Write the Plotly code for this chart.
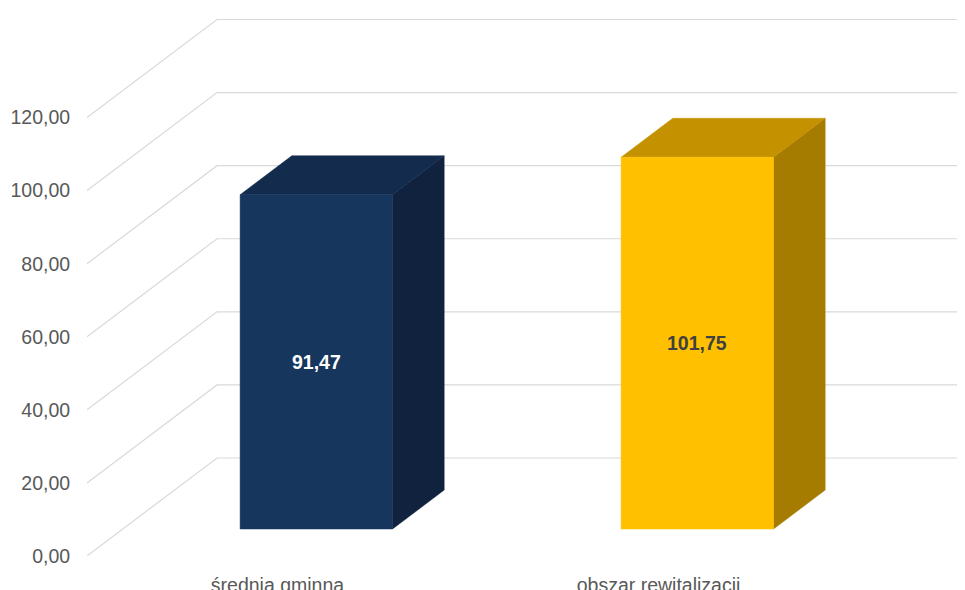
import plotly.graph_objects as go

categories = ["średnia gminna", "obszar rewitalizacji"]
values = [91.47, 101.75]
value_labels = ["91,47", "101,75"]
tick_values = [0, 20, 40, 60, 80, 100, 120]
tick_labels = ["0,00", "20,00", "40,00", "60,00", "80,00", "100,00", "120,00"]

front_colors = ["#17365D", "#FFC000"]
top_colors = ["#132B4C", "#C49200"]
side_colors = ["#10223D", "#A67C00"]
label_colors = ["#FFFFFF", "#404040"]

# page body has an 8px margin; figure sized to fill the 965x590 window
W, H = 957, 582
L, B, T = 79, 34, 0
PX_PER_UNIT = 3.654          # vertical pixels per value unit
PX_PER_CAT = 381.0           # horizontal pixels per category
DEPTH_DX = 130 / PX_PER_CAT  # oblique depth offset (x, category units)
DEPTH_DY = 98 / PX_PER_UNIT  # oblique depth offset (y, value units)
F1, F2 = 0.2755, 0.673       # bar front/back depth fractions
HALF_W = 0.2
BAR_SHIFT = 3 / PX_PER_CAT

xmax = (W - L) / PX_PER_CAT
ymax = (H - B - T) / PX_PER_UNIT

fig = go.Figure()

# oblique gridlines: side wall diagonal + back wall horizontal
for t in tick_values:
    fig.add_trace(go.Scatter(
        x=[0, DEPTH_DX, xmax], y=[t, t + DEPTH_DY, t + DEPTH_DY],
        mode="lines", line=dict(color="#D9D9D9", width=1.2),
        hoverinfo="skip", showlegend=False))

def poly(xs, ys, color):
    fig.add_trace(go.Scatter(
        x=xs + [xs[0]], y=ys + [ys[0]], mode="lines", fill="toself",
        fillcolor=color, line=dict(color=color, width=0.5),
        hoverinfo="skip", showlegend=False))

for i, v in enumerate(values):
    c = i + 0.5 + BAR_SHIFT
    xl0, xr0 = c - HALF_W + F1 * DEPTH_DX, c + HALF_W + F1 * DEPTH_DX
    xl1, xr1 = c - HALF_W + F2 * DEPTH_DX, c + HALF_W + F2 * DEPTH_DX
    y0f, y0b = F1 * DEPTH_DY, F2 * DEPTH_DY
    # right side
    poly([xr0, xr1, xr1, xr0], [y0f, y0b, v + y0b, v + y0f], side_colors[i])
    # top
    poly([xl0, xr0, xr1, xl1], [v + y0f, v + y0f, v + y0b, v + y0b], top_colors[i])
    # front
    poly([xl0, xr0, xr0, xl0], [y0f, y0f, v + y0f, v + y0f], front_colors[i])
    fig.add_annotation(
        x=(xl0 + xr0) / 2, y=y0f + v / 2, text="<b>" + value_labels[i] + "</b>",
        showarrow=False,
        font=dict(family="Liberation Sans, Arial", size=19.5, color=label_colors[i]))

fig.update_layout(
    width=W, height=H,
    margin=dict(l=L, r=0, t=T, b=B, autoexpand=False),
    paper_bgcolor="white", plot_bgcolor="white",
    font=dict(family="Liberation Sans, Arial", size=19.5, color="#595959"),
    xaxis=dict(range=[0, xmax], showgrid=False, zeroline=False, showline=False,
               tickmode="array", tickvals=[i + 0.5 for i in range(len(categories))],
               ticktext=categories, ticks="outside", ticklen=12, tickcolor="rgba(0,0,0,0)",
               automargin=False, fixedrange=True),
    yaxis=dict(range=[0, ymax], showgrid=False, zeroline=False, showline=False,
               tickmode="array", tickvals=tick_values, ticktext=tick_labels,
               ticks="outside", ticklen=12, tickcolor="rgba(0,0,0,0)",
               automargin=False, fixedrange=True),
)

fig.write_html("out.html")
